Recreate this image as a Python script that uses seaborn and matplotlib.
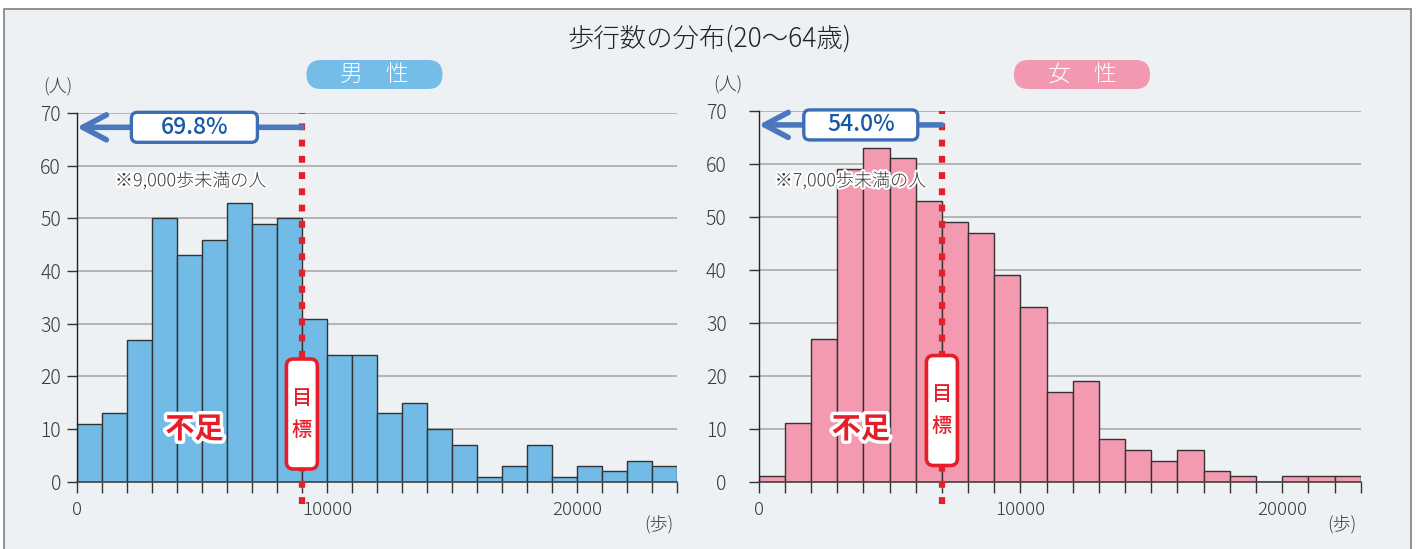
import numpy as np
import pandas as pd
import matplotlib
matplotlib.use("Agg")
import matplotlib.pyplot as plt
import matplotlib.patheffects as pe
from matplotlib.patches import FancyBboxPatch, Rectangle
from matplotlib.transforms import Affine2D
import seaborn as sns

# --- data ---
bin_width = 1000
men_counts = [11, 13, 27, 50, 43, 46, 53, 49, 50, 31, 24, 24,
              13, 15, 10, 7, 1, 3, 7, 1, 3, 2, 4, 3]
women_counts = [1, 11, 27, 59, 63, 61, 53, 49, 47, 39, 33, 17,
                19, 8, 6, 4, 6, 2, 1, 0, 1, 1, 1]
men_goal = 9000
women_goal = 7000
men_share = "69.8%"
women_share = "54.0%"
men_note = "※9,000歩未満の人"
women_note = "※7,000歩未満の人"
title = "歩行数の分布(20〜64歳)"
yticks = [0, 10, 20, 30, 40, 50, 60, 70]
xticks = [0, 10000, 20000]

W, H = 1418, 549
RED = "#e61e2a"
BLUE = "#4a77be"
BG = "#edf1f3"
TXT = "#3a3a3a"

sns.set_style("white")
plt.rcParams["font.family"] = ["Noto Sans CJK JP", "DejaVu Sans"]
plt.rcParams["font.weight"] = "light"

fig = plt.figure(figsize=(W / 100, H / 100), dpi=100)
fig.patch.set_facecolor("white")
PX = Affine2D().scale(1, -1).translate(0, H)   # pixel coords, origin top-left

fig.add_artist(Rectangle((4, 9), 1407, 560, transform=PX, facecolor=BG,
                         edgecolor="#808080", lw=1.2, zorder=-10))


def px_of(ax, x, y):
    dx, dy = ax.transData.transform((x, y))
    return dx, H - dy


def panel(rect, counts, color, goal, share, note, mid_x, tick_pad, box_cy):
    ax = fig.add_axes([rect[0] / W, 1 - rect[3] / H, (rect[2] - rect[0]) / W,
                       (rect[3] - rect[1]) / H])
    ax.set_facecolor("none")
    edges = np.arange(len(counts) + 1) * bin_width
    df = pd.DataFrame({"steps": edges[:-1] + bin_width / 2, "n": counts})
    sns.histplot(data=df, x="steps", weights="n", binwidth=bin_width,
                 binrange=(0, edges[-1]), color=color,
                 edgecolor="#333333", linewidth=1, alpha=1, ax=ax, zorder=2)
    ax.set_xlim(0, edges[-1])
    ax.set_ylim(0, 70)
    ax.set_yticks(yticks)
    ax.set_xticks(xticks)
    ax.set_xticks(edges, minor=True)
    ax.yaxis.grid(True, color="#b4b4b4", lw=1.4)
    ax.set_axisbelow(True)
    ax.set_xlabel("")
    ax.set_ylabel("")
    ax.tick_params(axis="x", which="both", bottom=True, direction="out",
                   length=8, width=1, color="#333333")
    ax.tick_params(axis="x", which="major", labelsize=13.5, labelcolor=TXT, pad=6)
    ax.tick_params(axis="y", left=True, direction="out", length=7, width=1,
                   color="#333333", labelsize=14, labelcolor=TXT, pad=tick_pad)
    for s in ["top", "right"]:
        ax.spines[s].set_visible(False)
    ax.spines["left"].set_color("#222222")
    ax.spines["left"].set_linewidth(1)
    ax.spines["bottom"].set_color("#444444")
    ax.spines["bottom"].set_linewidth(1.2)

    # goal line
    hpx = rect[3] - rect[1]
    ax.axvline(goal, ymin=-22 / hpx, ymax=1, color=RED, lw=4.5,
               linestyle=(0, (1.1, 1.5)), dash_capstyle="butt",
               clip_on=False, zorder=5)

    # arrow + share box
    ax.annotate("", xy=(0, 67.3), xytext=(goal, 67.3), annotation_clip=False,
                arrowprops=dict(arrowstyle="->,head_length=0.85,head_width=0.45",
                                lw=4, color=BLUE, shrinkA=0, shrinkB=0,
                                mutation_scale=20), zorder=6)
    cx, cy = px_of(ax, mid_x, 67.3)
    w = 126 if goal == men_goal else 114
    fig.add_artist(FancyBboxPatch((cx - w / 2, cy - 15), w, 30, transform=PX,
                                  boxstyle="round,pad=0,rounding_size=6",
                                  facecolor="white", edgecolor="#3d6db5", lw=2.4, zorder=7))
    fig.text(cx, cy, share, transform=PX, ha="center", va="center",
             fontsize=16.5, fontweight="medium", color="#1458a6", zorder=8)

    # note
    nx, ny = px_of(ax, 0, 0)
    fig.text(nx + 38 if goal == men_goal else nx + 16, 181, note, transform=PX,
             ha="left", va="center", fontsize=13, color=TXT, zorder=8,
             path_effects=[pe.withStroke(linewidth=3, foreground="white")])

    # 不足
    fx, _ = px_of(ax, mid_x, 0)
    fig.text(fx, 429, "不足", transform=PX, ha="center", va="center", fontsize=21,
             fontweight="bold", color=RED, zorder=8,
             path_effects=[pe.withStroke(linewidth=5, foreground="white")])

    # 目標 box
    gx, _ = px_of(ax, goal, 0)
    fig.add_artist(FancyBboxPatch((gx - 15.5, box_cy - 55), 31, 110, transform=PX,
                                  boxstyle="round,pad=0,rounding_size=7",
                                  facecolor="white", edgecolor=RED, lw=2.6, zorder=7))
    fig.text(gx, box_cy - 16, "目", transform=PX, ha="center", va="center",
             fontsize=14.5, fontweight="medium", color=RED, zorder=8)
    fig.text(gx, box_cy + 16, "標", transform=PX, ha="center", va="center",
             fontsize=14.5, fontweight="medium", color=RED, zorder=8)
    return ax


panel((76.9, 113.1, 676.9, 481.8), men_counts, "#72bbe6", men_goal, men_share,
      men_note, 4700, 4.5, 414)
panel((758.7, 110.6, 1360.7, 481.8), women_counts, "#f49ab0", women_goal, women_share,
      women_note, 3900, 16, 410.5)

# title, pills, unit labels
fig.text(709, 38.5, title, transform=PX, ha="center", va="center", fontsize=19,
         color="#222222")
for (cx, label, col) in [(374.5, "男　性", "#74bde8"), (1082, "女　性", "#f298b0")]:
    fig.add_artist(FancyBboxPatch((cx - 68, 60), 136, 29, transform=PX,
                                  boxstyle="round,pad=0,rounding_size=14.5",
                                  facecolor=col, edgecolor="none", zorder=7))
    fig.text(cx, 74.5, label, transform=PX, ha="center", va="center",
             fontsize=16.5, color="white", zorder=8)
for (x, y, s) in [(58, 87, "(人)"), (728, 85, "(人)"), (659, 525, "(歩)"), (1342, 525, "(歩)")]:
    fig.text(x, y, s, transform=PX, ha="center", va="center", fontsize=13,
             color=TXT)

fig.savefig("out.png", dpi=100)
